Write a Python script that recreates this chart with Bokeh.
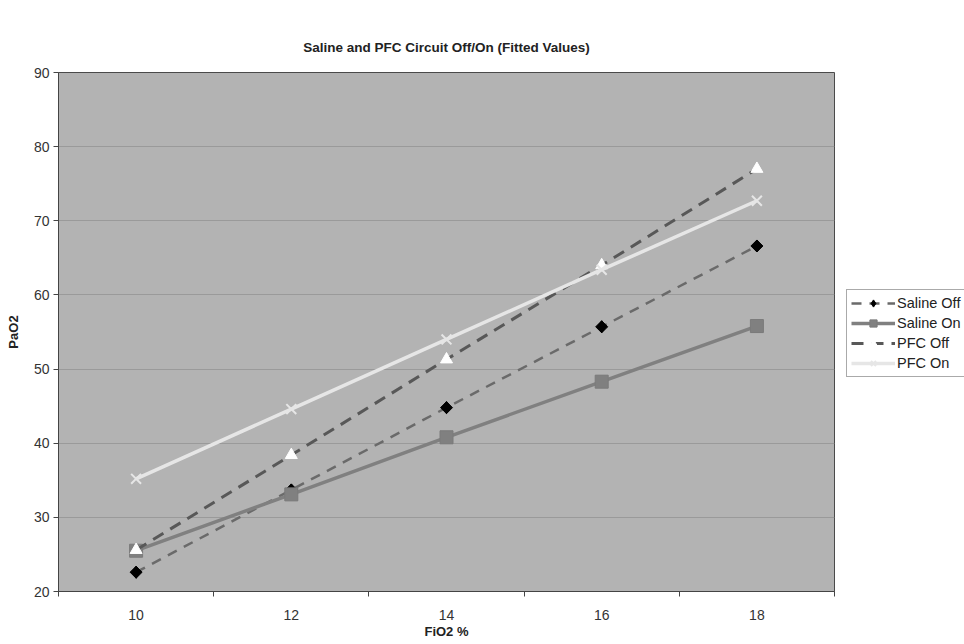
import math
from bokeh.plotting import figure
from bokeh.models import FixedTicker, Legend, LegendItem, Range1d
from bokeh.embed import file_html
from bokeh.resources import INLINE

fio2 = [10, 12, 14, 16, 18]
x_tick_labels = ["10", "12", "14", "16", "18"]
saline_off = [22.6, 33.7, 44.8, 55.7, 66.6]
saline_on = [25.5, 33.1, 40.8, 48.3, 55.8]
pfc_off = [25.6, 38.4, 51.3, 64.0, 77.0]
pfc_on = [35.2, 44.6, 54.0, 63.4, 72.7]
y_ticks = [20, 30, 40, 50, 60, 70, 80, 90]

FONT = "Liberation Sans"

p = figure(frame_width=776, frame_height=519, output_backend="svg",
           toolbar_location=None, x_range=Range1d(9, 19), y_range=Range1d(20, 90),
           min_border_left=58, min_border_top=72, min_border_bottom=40,
           min_border_right=0,
           title="Saline and PFC Circuit Off/On (Fitted Values)")

p.background_fill_color = "#b3b3b3"
p.border_fill_color = "white"
p.outline_line_color = "#4a4a4a"
p.outline_line_width = 1

p.title.align = "center"
p.title.text_font = FONT
p.title.text_font_size = "13.5px"
p.title.text_font_style = "bold"
p.title.text_color = "#222222"
p.title.standoff = 36

p.xaxis.ticker = FixedTicker(ticks=fio2, minor_ticks=[9, 11, 13, 15, 17, 19])
p.xaxis.major_label_overrides = {v: s for v, s in zip(fio2, x_tick_labels)}
p.xaxis.major_tick_out = 0
p.xaxis.major_tick_in = 0
p.xaxis.minor_tick_out = 5
p.xaxis.minor_tick_in = 0
p.xaxis.minor_tick_line_color = "#444444"
p.xaxis.major_label_standoff = 13
p.xaxis.axis_label = "FiO2 %"
p.xaxis.axis_label_standoff = 1

p.yaxis.ticker = FixedTicker(ticks=y_ticks, minor_ticks=[])
p.yaxis.major_tick_out = 5
p.yaxis.major_tick_in = 0
p.yaxis.major_label_standoff = 4
p.yaxis.axis_label = "PaO2"
p.yaxis.axis_label_standoff = 10

for ax in (p.xaxis, p.yaxis):
    ax.axis_line_color = "#444444"
    ax.major_tick_line_color = "#444444"
    ax.major_label_text_font = FONT
    ax.major_label_text_font_size = "14px"
    ax.major_label_text_color = "#333333"
    ax.axis_label_text_font = FONT
    ax.axis_label_text_font_size = "13px"
    ax.axis_label_text_font_style = "bold"
    ax.axis_label_text_color = "#222222"

p.xgrid.grid_line_color = None
p.ygrid.grid_line_color = "#9a9a9a"
p.ygrid.grid_line_width = 1

l1 = p.line(fio2, saline_off, line_color="#6a6a6a", line_width=2.5, line_dash="10 8")
k1 = p.scatter(fio2, saline_off, marker="diamond", size=12,
               fill_color="black", line_color="black")
m1 = p.scatter(fio2, saline_off, marker="square", size=8.5, angle=math.pi / 4,
               fill_color="black", line_color="black")
l2 = p.line(fio2, saline_on, line_color="#808080", line_width=3.5)
m2 = p.scatter(fio2, saline_on, marker="square", size=13, fill_color="#808080",
               line_color="#7a7a7a")
l3 = p.line(fio2, pfc_off, line_color="#585858", line_width=3, line_dash="12 8")
m3 = p.scatter(fio2, pfc_off, marker="triangle", size=12, fill_color="white",
               line_color="white")
l4 = p.line(fio2, pfc_on, line_color="#e6e6e6", line_width=3.5)
m4 = p.scatter(fio2, pfc_on, marker="x", size=14, line_color="#e6e6e6", line_width=2)

lg = Legend(items=[
    LegendItem(label="Saline Off", renderers=[l1, k1]),
    LegendItem(label="Saline On", renderers=[l2, m2]),
    LegendItem(label="PFC Off", renderers=[l3, m3]),
    LegendItem(label="PFC On", renderers=[l4, m4]),
], location=(12, 214))
lg.label_text_font = FONT
lg.label_text_font_size = "14.5px"
lg.label_text_color = "#222222"
lg.border_line_color = "#555555"
lg.border_line_width = 1
lg.background_fill_color = "white"
lg.glyph_width = 44
lg.glyph_height = 18
lg.label_height = 18
lg.label_standoff = 2
lg.spacing = 2
lg.padding = 4
lg.margin = 0
p.add_layout(lg, "right")

with open("out.html", "w") as f:
    f.write(file_html(p, INLINE))
